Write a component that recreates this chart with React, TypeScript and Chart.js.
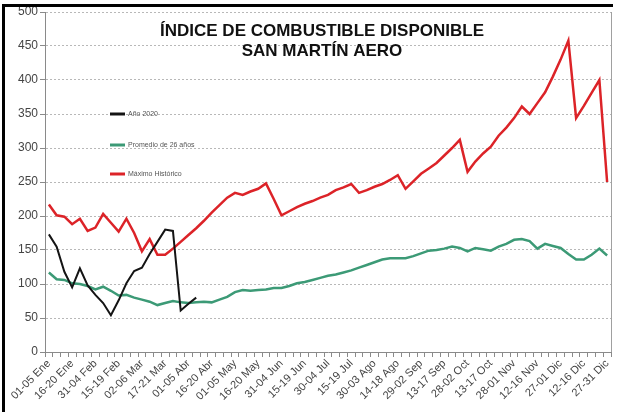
import React, { useEffect, useRef } from "react";
import { Chart, registerables } from "chart.js";

Chart.register(...registerables);

const tickLabels = [
  "01-05 Ene", "16-20 Ene", "31-04 Feb", "15-19 Feb", "02-06 Mar", "17-21 Mar",
  "01-05 Abr", "16-20 Abr", "01-05 May", "16-20 May", "31-04 Jun", "15-19 Jun",
  "30-04 Jul", "15-19 Jul", "30-03 Ago", "14-18 Ago", "29-02 Sep", "13-17 Sep",
  "28-02 Oct", "13-17 Oct", "28-01 Nov", "12-16 Nov", "27-01 Dic", "12-16 Dic",
  "27-31 Dic",
];

const ano2020 = [
  173, 155, 118, 95, 123, 98, 84, 72, 54, 76, 101, 119, 124, 144, 162, 180, 178, 61, 71, 80,
];

const promedio26 = [
  117, 107, 106, 101, 100, 97, 92, 96, 90, 83, 84, 80, 77, 74, 69, 72, 75, 73, 72, 73,
  74, 73, 77, 81, 88, 91, 90, 91, 92, 94, 94, 97, 101, 103, 106, 109, 112, 114, 117, 120,
  124, 128, 132, 136, 138, 138, 138, 141, 145, 149, 150, 152, 155, 153, 148, 153, 151, 149,
  155, 159, 165, 166, 163, 152, 159, 156, 153, 144, 136, 136, 143, 152, 142,
];

const maximoHistorico = [
  217, 201, 199, 188, 196, 178, 183, 203, 190, 177, 196, 175, 148, 166, 143, 143, 152, 162,
  172, 182, 193, 205, 216, 227, 234, 231, 236, 240, 248, 225, 201, 207, 213, 218, 222, 227,
  231, 238, 242, 247, 234, 238, 243, 247, 253, 260, 240, 251, 262, 270, 278, 289, 300, 312,
  265, 280, 292, 302, 318, 330, 344, 361, 350, 366, 382, 405, 430, 458, 344, 362, 381, 400,
  250,
];

const seriesNames = ["Año 2020", "Promedio de 26 años", "Máximo Histórico"];
const titleLines = ["ÍNDICE DE COMBUSTIBLE DISPONIBLE", "SAN MARTÍN AERO"];

const COLORS = ["#141414", "#3c9a76", "#dc2328"];
const FONT = "'Liberation Sans', Arial, sans-serif";

const categories = maximoHistorico.map((_, i) => (i % 3 === 0 ? tickLabels[i / 3] : ""));

const overlayPlugin = {
  id: "overlay",
  afterDraw(chart: any) {
    const ctx = chart.ctx;
    const area = chart.chartArea;
    ctx.save();
    // right plot border
    ctx.strokeStyle = "#a0a0a0";
    ctx.lineWidth = 1;
    ctx.beginPath();
    ctx.moveTo(Math.round(area.right) + 0.5, area.top);
    ctx.lineTo(Math.round(area.right) + 0.5, area.bottom);
    ctx.stroke();
    // frame
    ctx.fillStyle = "#000";
    ctx.fillRect(2, 4, 611, 3);
    ctx.fillRect(2, 4, 3, 408);
    // title
    ctx.fillStyle = "#111";
    ctx.font = `bold 17px ${FONT}`;
    ctx.textAlign = "center";
    ctx.textBaseline = "alphabetic";
    ctx.fillText(titleLines[0], 322, 36);
    ctx.fillText(titleLines[1], 322, 56);
    // legend
    const ys = [114, 145, 174];
    ctx.font = `7px ${FONT}`;
    ctx.textAlign = "left";
    ctx.textBaseline = "middle";
    seriesNames.forEach((name, i) => {
      ctx.strokeStyle = COLORS[i];
      ctx.lineWidth = 3;
      ctx.beginPath();
      ctx.moveTo(110, ys[i]);
      ctx.lineTo(125, ys[i]);
      ctx.stroke();
      ctx.fillStyle = "#555";
      ctx.fillText(name, 128, ys[i]);
    });
    ctx.restore();
  },
};

export default function App() {
  const ref = useRef<HTMLCanvasElement | null>(null);

  useEffect(() => {
    if (!ref.current) return;
    const chart = new Chart(ref.current, {
      type: "line",
      data: {
        labels: categories,
        datasets: [
          {
            label: seriesNames[0],
            data: ano2020,
            borderColor: COLORS[0],
            borderWidth: 2,
            pointRadius: 0,
            tension: 0,
            fill: false,
          },
          {
            label: seriesNames[1],
            data: promedio26,
            borderColor: COLORS[1],
            borderWidth: 2.5,
            pointRadius: 0,
            tension: 0,
            fill: false,
          },
          {
            label: seriesNames[2],
            data: maximoHistorico,
            borderColor: COLORS[2],
            borderWidth: 2.5,
            pointRadius: 0,
            tension: 0,
            fill: false,
          },
        ],
      },
      options: {
        animation: false,
        responsive: false,
        maintainAspectRatio: false,
        layout: { padding: { top: 12, right: 6, bottom: 0, left: 0 } },
        plugins: {
          legend: { display: false },
          title: { display: false },
          tooltip: { enabled: false },
        },
        scales: {
          x: {
            type: "category",
            offset: true,
            afterFit: (scale: any) => {
              scale.height = 60;
            },
            grid: {
              display: true,
              drawOnChartArea: false,
              drawTicks: true,
              tickLength: 5,
              offset: true,
              color: "#8a8a8a",
            },
            border: { display: true, color: "#8a8a8a", width: 1 },
            ticks: {
              autoSkip: false,
              maxRotation: 45,
              minRotation: 45,
              padding: 0,
              color: "#444",
              font: { family: FONT, size: 11 },
            },
          },
          y: {
            min: 0,
            max: 500,
            afterFit: (scale: any) => {
              scale.width = 45;
            },
            grid: {
              color: "#b8b8b8",
              lineWidth: 1,
              drawTicks: true,
              tickLength: 5,
              tickColor: "#8a8a8a",
            },
            border: { display: true, color: "#8a8a8a", width: 1, dash: [2, 2] },
            ticks: {
              stepSize: 50,
              padding: 2,
              color: "#444",
              font: { family: FONT, size: 12 },
            },
          },
        },
      },
      plugins: [overlayPlugin],
    });
    return () => chart.destroy();
  }, []);

  return (
    <div style={{ position: "fixed", left: 0, top: 0, width: 617, height: 412, background: "#fff" }}>
      <canvas ref={ref} width={617} height={412} style={{ width: 617, height: 412 }} />
    </div>
  );
}
